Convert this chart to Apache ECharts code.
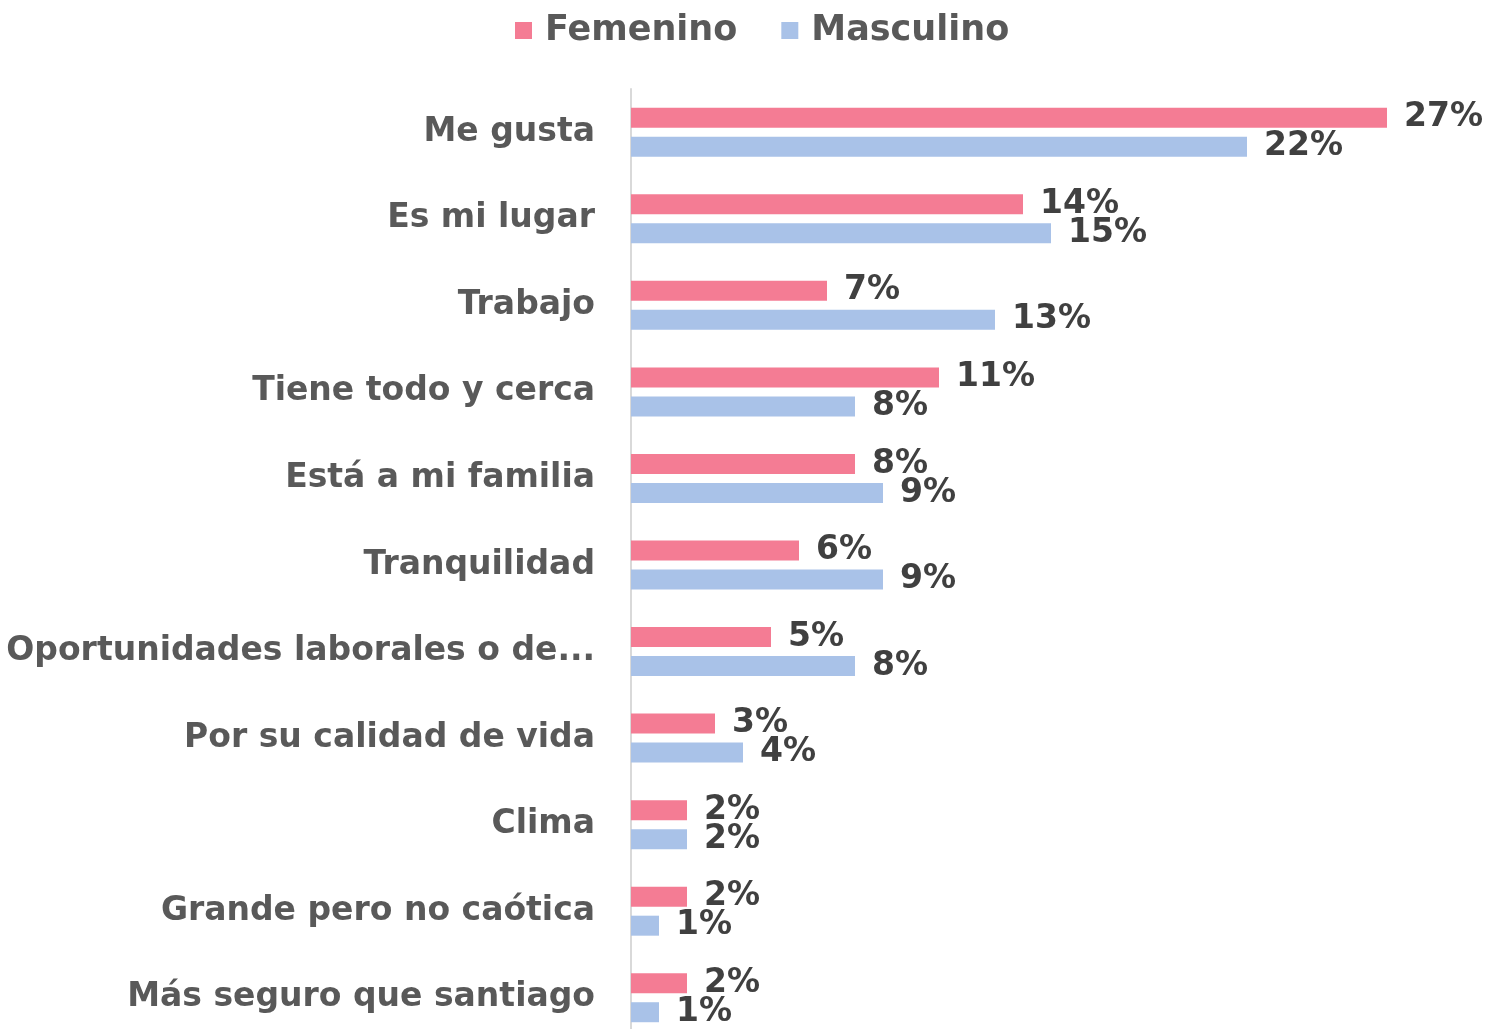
<!DOCTYPE html>
<html>
<head>
<meta charset="utf-8">
<script src="https://cdn.jsdelivr.net/npm/echarts@6/dist/echarts.min.js"></script>
<style>
  html, body { margin: 0; padding: 0; background: #fff; }
  #main { width: 1486px; height: 1029px; }
</style>
</head>
<body>
<div id="main"></div>
<script>
// categorias de arriba hacia abajo
var categories = [
  'Me gusta',
  'Es mi lugar',
  'Trabajo',
  'Tiene todo y cerca',
  'Está a mi familia',
  'Tranquilidad',
  'Oportunidades laborales o de estudio',
  'Por su calidad de vida',
  'Clima',
  'Grande pero no caótica',
  'Más seguro que santiago'
];
var femenino = [27, 14, 7, 11, 8, 6, 5, 3, 2, 2, 2];
var masculino = [22, 15, 13, 8, 9, 9, 8, 4, 2, 1, 1];

var FONT = '"DejaVu Sans", "Open Sans", sans-serif';
var myChart = echarts.init(document.getElementById('main'));

var labelStyle = {
  show: true,
  position: 'right',
  distance: 17,
  formatter: '{c}%',
  color: '#404040',
  fontFamily: FONT,
  fontWeight: 'bold',
  fontSize: 33
};

myChart.setOption({
  animation: false,
  legend: {
    top: 8,
    left: 510,
    itemWidth: 17,
    itemHeight: 17,
    itemGap: 44,
    icon: 'rect',
    textStyle: {
      color: '#595959',
      fontFamily: FONT,
      fontWeight: 'bold',
      fontSize: 35,
      padding: [0, 0, 0, 8]
    },
    data: ['Femenino', 'Masculino']
  },
  grid: {
    left: 631,
    right: 99,
    top: 89,
    bottom: -12,
    containLabel: false,
    outerBoundsMode: 'none'
  },
  xAxis: {
    type: 'value',
    min: 0,
    max: 27,
    show: false
  },
  yAxis: {
    type: 'category',
    inverse: true,
    data: categories,
    axisLine: { show: true, lineStyle: { color: '#d9d9d9', width: 2 } },
    axisTick: { show: false },
    splitLine: { show: false },
    axisLabel: {
      margin: 36,
      width: 590,
      overflow: 'truncate',
      ellipsis: '...',
      color: '#595959',
      fontFamily: FONT,
      fontWeight: 'bold',
      fontSize: 33
    }
  },
  series: [
    {
      name: 'Femenino',
      type: 'bar',
      data: femenino,
      barWidth: 20,
      barGap: '45%',
      itemStyle: { color: '#F47C94' },
      label: labelStyle
    },
    {
      name: 'Masculino',
      type: 'bar',
      data: masculino,
      barWidth: 20,
      itemStyle: { color: '#A9C2E8' },
      label: labelStyle
    }
  ]
});
</script>
</body>
</html>
